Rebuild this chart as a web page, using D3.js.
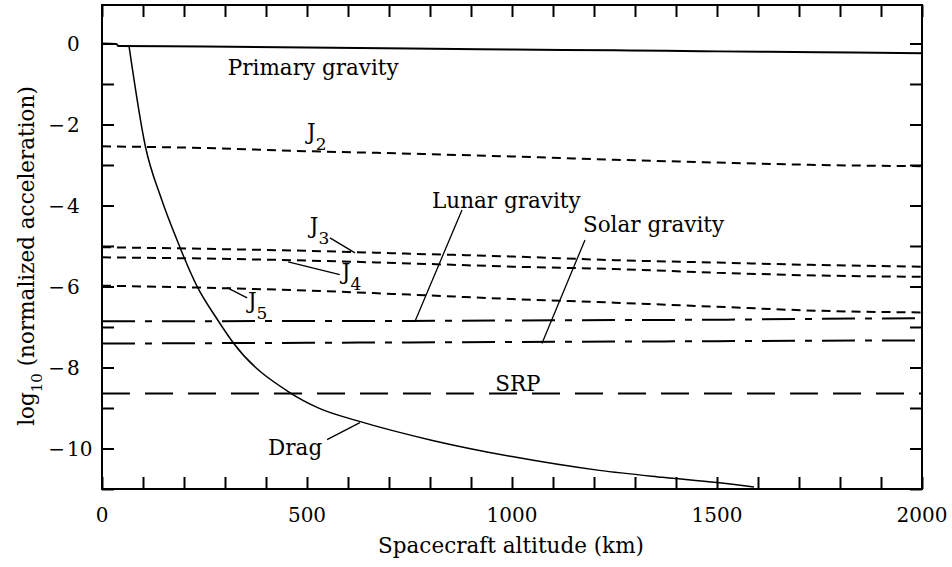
<!DOCTYPE html>
<html>
<head>
<meta charset="utf-8">
<script src="https://cdn.jsdelivr.net/npm/d3@7"></script>
<style>
  body { margin: 0; background: #fff; }
  text { font-family: "DejaVu Serif", serif; fill: #000; }
  .axis line { stroke: #000; stroke-width: 2; }
  .axis path { display: none; }
</style>
</head>
<body>
<svg id="display" width="952" height="567"></svg>
<script>
var altitudes = [0, 250, 500, 750, 1000, 1250, 1500, 1750, 2000];

// log10 of normalized acceleration at those altitudes
var j2Values = [-2.54, -2.58, -2.66, -2.72, -2.79, -2.87, -2.94, -3.00, -3.03];
var j3Values = [-5.03, -5.07, -5.12, -5.19, -5.26, -5.35, -5.41, -5.47, -5.51];
var j4Values = [-5.28, -5.31, -5.36, -5.43, -5.51, -5.57, -5.66, -5.73, -5.76];
var j5Values = [-5.98, -6.03, -6.10, -6.20, -6.31, -6.40, -6.50, -6.60, -6.64];
var lunarValues = [-6.86, -6.86, -6.85, -6.85, -6.84, -6.83, -6.82, -6.80, -6.78];
var solarValues = [-7.41, -7.40, -7.39, -7.38, -7.37, -7.36, -7.35, -7.34, -7.33];
var srpValues = [-8.64, -8.64, -8.64, -8.64, -8.64, -8.64, -8.64, -8.64, -8.64];

var primaryAlt = [0, 35, 40, 250, 500, 750, 1000, 1250, 1500, 1750, 2000];
var primaryValues = [0, -0.01, -0.065, -0.075, -0.10, -0.125, -0.15, -0.17, -0.195, -0.215, -0.24];

var dragAlt = [66, 106, 145, 190, 200, 231, 283, 320, 458, 530, 628, 806, 1000, 1213, 1367, 1500, 1590];
var dragValues = [-0.07, -2.55, -3.84, -5.03, -5.28, -5.98, -6.84, -7.39, -8.62, -9.01, -9.33, -9.80, -10.2, -10.54, -10.71, -10.84, -10.95];

var xTickLabels = [0, 500, 1000, 1500, 2000];
var yTickLabels = [0, -2, -4, -6, -8, -10];

var svg = d3.select("#display"),
  margin = {top: 5, right: 30, bottom: 78, left: 102},
  width = +svg.attr("width") - margin.left - margin.right,
  height = +svg.attr("height") - margin.top - margin.bottom;

var g = svg.append("g")
    .attr("transform", "translate(" + margin.left + "," + margin.top + ")");

var x = d3.scaleLinear().domain([0, 2000]).range([0, width]);
var y = d3.scaleLinear().domain([-11, 0.95]).range([height, 0]);

var line = d3.line()
    .x(function(d) { return x(d[0]); })
    .y(function(d) { return y(d[1]); })
    .curve(d3.curveMonotoneX);

function pairs(xs, ys) { return xs.map(function(a, i) { return [a, ys[i]]; }); }

var series = [
  {values: pairs(primaryAlt, primaryValues), dash: null, w: 2},
  {values: pairs(altitudes, j2Values), dash: "9,6", w: 2},
  {values: pairs(altitudes, j3Values), dash: "9,6", w: 2},
  {values: pairs(altitudes, j4Values), dash: "9,6", w: 2},
  {values: pairs(altitudes, j5Values), dash: "9,6", w: 2},
  {values: pairs(altitudes, lunarValues), dash: "33,10,7,10", w: 2},
  {values: pairs(altitudes, solarValues), dash: "33,10,7,10", w: 2},
  {values: pairs(altitudes, srpValues), dash: "28,15", w: 2},
  {values: pairs(dragAlt, dragValues), dash: null, w: 1.5}
];

g.selectAll("path.series")
  .data(series)
  .enter().append("path")
    .attr("class", "series")
    .attr("d", function(d) { return line(d.values); })
    .attr("fill", "none")
    .attr("stroke", "#000")
    .attr("stroke-width", function(d) { return d.w; })
    .attr("stroke-dasharray", function(d) { return d.dash; });

// ticks on all four sides, pointing inward
var xMinor = d3.range(0, 2001, 100);
var yMinor = d3.range(-11, 1, 1);

g.append("g").attr("class", "axis")
    .attr("transform", "translate(0," + height + ")")
    .call(d3.axisBottom(x).tickValues(xMinor).tickSize(-12).tickFormat(""));
g.append("g").attr("class", "axis")
    .call(d3.axisTop(x).tickValues(xMinor).tickSize(-12).tickFormat(""));
g.append("g").attr("class", "axis")
    .call(d3.axisLeft(y).tickValues(yMinor).tickSize(-12).tickFormat(""));
g.append("g").attr("class", "axis")
    .attr("transform", "translate(" + width + ",0)")
    .call(d3.axisRight(y).tickValues(yMinor).tickSize(-12).tickFormat(""));

g.append("rect")
    .attr("width", width)
    .attr("height", height)
    .attr("fill", "none")
    .attr("stroke", "#000")
    .attr("stroke-width", 2);

// tick labels
g.selectAll("text.xlab")
  .data(xTickLabels)
  .enter().append("text")
    .attr("class", "xlab")
    .attr("x", function(d) { return x(d); })
    .attr("y", height + 33)
    .attr("text-anchor", "middle")
    .attr("font-size", 20)
    .text(function(d) { return d; });

var ylab = g.selectAll("g.ylab")
  .data(yTickLabels)
  .enter().append("g")
    .attr("class", "ylab")
    .attr("transform", function(d) { return "translate(-35," + y(d) + ")"; });
ylab.append("text")
    .attr("dy", "0.36em")
    .attr("font-size", 20)
    .text(function(d) { return Math.abs(d); });
ylab.filter(function(d) { return d < 0; })
  .append("text")
    .attr("x", -2)
    .attr("dy", "0.36em")
    .attr("text-anchor", "end")
    .attr("font-size", 20)
    .text("\u2212");

// axis titles
svg.append("text")
    .attr("x", margin.left + width / 2 - 1)
    .attr("y", 553)
    .attr("text-anchor", "middle")
    .attr("font-size", 21.5)
    .text("Spacecraft altitude (km)");

var ytitle = svg.append("text")
    .attr("transform", "translate(34,256) rotate(-90)")
    .attr("text-anchor", "middle")
    .attr("font-size", 21.5);
ytitle.append("tspan").text("log");
ytitle.append("tspan").attr("font-size", 15).attr("dy", 8).text("10");
ytitle.append("tspan").attr("dy", -8).text(" (normalized acceleration)");

// curve labels, placed in data units
var labels = [
  {text: "Primary gravity", h: 307, v: -0.78},
  {text: "Lunar gravity", h: 805, v: -4.06},
  {text: "Solar gravity", h: 1173, v: -4.65},
  {text: "SRP", h: 959, v: -8.57},
  {text: "Drag", h: 405, v: -10.15}
];
g.selectAll("text.lab")
  .data(labels)
  .enter().append("text")
    .attr("class", "lab")
    .attr("x", function(d) { return x(d.h); })
    .attr("y", function(d) { return y(d.v); })
    .attr("font-size", 21.5)
    .text(function(d) { return d.text; });

var jLabels = [
  {sub: "2", h: 500, v: -2.36},
  {sub: "3", h: 507, v: -4.67},
  {sub: "4", h: 585, v: -5.81},
  {sub: "5", h: 356, v: -6.52}
];
var jt = g.selectAll("text.jlab")
  .data(jLabels)
  .enter().append("text")
    .attr("class", "jlab")
    .attr("x", function(d) { return x(d.h); })
    .attr("y", function(d) { return y(d.v); })
    .attr("font-size", 21.5);
jt.append("tspan").text("J");
jt.append("tspan").attr("font-size", 17).attr("dy", 11).text(function(d) { return d.sub; });

// leader lines from labels to curves
var leaders = [
  [[556, -4.80], [617, -5.17]],
  [[454, -5.39], [580, -5.71]],
  [[305, -6.03], [354, -6.28]],
  [[878, -4.11], [763, -6.87]],
  [[1178, -4.85], [1073, -7.41]],
  [[549, -9.78], [629, -9.36]]
];
g.selectAll("line.leader")
  .data(leaders)
  .enter().append("line")
    .attr("class", "leader")
    .attr("x1", function(d) { return x(d[0][0]); })
    .attr("y1", function(d) { return y(d[0][1]); })
    .attr("x2", function(d) { return x(d[1][0]); })
    .attr("y2", function(d) { return y(d[1][1]); })
    .attr("stroke", "#000")
    .attr("stroke-width", 1.3);
</script>
</body>
</html>
